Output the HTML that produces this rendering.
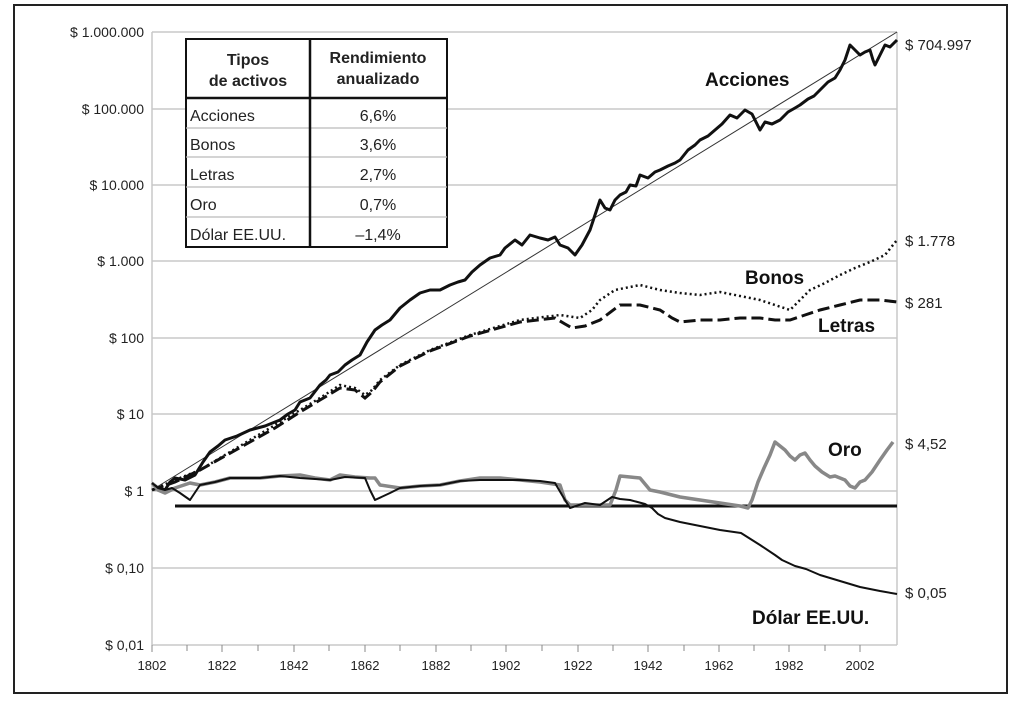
<!DOCTYPE html>
<html><head><meta charset="utf-8"><style>
html,body{margin:0;padding:0;background:#fff;}
svg{display:block;font-family:"Liberation Sans",sans-serif;}
</style></head><body>
<svg width="1024" height="726" viewBox="0 0 1024 726" xmlns="http://www.w3.org/2000/svg">
<rect x="14" y="5" width="993" height="688" fill="#fff" stroke="#222" stroke-width="2"/>
<g stroke="#c8c8c8" stroke-width="1.5">
<line x1="152" y1="32" x2="897" y2="32"/><line x1="152" y1="109" x2="897" y2="109"/>
<line x1="152" y1="185" x2="897" y2="185"/><line x1="152" y1="261" x2="897" y2="261"/>
<line x1="152" y1="338" x2="897" y2="338"/><line x1="152" y1="414" x2="897" y2="414"/>
<line x1="152" y1="491" x2="897" y2="491"/><line x1="152" y1="568" x2="897" y2="568"/>
<line x1="152" y1="645" x2="897" y2="645"/>
<line x1="152" y1="32" x2="152" y2="645"/><line x1="897" y1="32" x2="897" y2="645"/>
</g>
<g stroke="#888" stroke-width="1">
<line x1="152" y1="645" x2="152" y2="652"/><line x1="187" y1="645" x2="187" y2="651"/><line x1="222" y1="645" x2="222" y2="652"/><line x1="258" y1="645" x2="258" y2="651"/><line x1="294" y1="645" x2="294" y2="652"/><line x1="329" y1="645" x2="329" y2="651"/><line x1="365" y1="645" x2="365" y2="652"/><line x1="400" y1="645" x2="400" y2="651"/><line x1="436" y1="645" x2="436" y2="652"/><line x1="471" y1="645" x2="471" y2="651"/><line x1="506" y1="645" x2="506" y2="652"/><line x1="542" y1="645" x2="542" y2="651"/><line x1="578" y1="645" x2="578" y2="652"/><line x1="613" y1="645" x2="613" y2="651"/><line x1="648" y1="645" x2="648" y2="652"/><line x1="684" y1="645" x2="684" y2="651"/><line x1="719" y1="645" x2="719" y2="652"/><line x1="754" y1="645" x2="754" y2="651"/><line x1="789" y1="645" x2="789" y2="652"/><line x1="825" y1="645" x2="825" y2="651"/><line x1="860" y1="645" x2="860" y2="652"/>
</g>
<g font-size="14" fill="#222" text-anchor="end">
<text x="144" y="37">$ 1.000.000</text><text x="144" y="114">$ 100.000</text>
<text x="144" y="190">$ 10.000</text><text x="144" y="266">$ 1.000</text>
<text x="144" y="343">$ 100</text><text x="144" y="419">$ 10</text>
<text x="144" y="496">$ 1</text><text x="144" y="573">$ 0,10</text>
<text x="144" y="650">$ 0,01</text>
</g>
<g font-size="13" fill="#222" text-anchor="middle">
<text x="152" y="670">1802</text><text x="222" y="670">1822</text><text x="294" y="670">1842</text><text x="365" y="670">1862</text><text x="436" y="670">1882</text><text x="506" y="670">1902</text><text x="578" y="670">1922</text><text x="648" y="670">1942</text><text x="719" y="670">1962</text><text x="789" y="670">1982</text><text x="860" y="670">2002</text>
</g>
<line x1="175" y1="506" x2="897" y2="506" stroke="#111" stroke-width="3"/>
<line x1="152" y1="490" x2="897" y2="32" stroke="#333" stroke-width="1"/>
<polyline fill="none" stroke="#111" stroke-width="3" stroke-linejoin="round" points="152,483 158,488 165,490 170,482 175,478 185,480 195,475 203,462 210,452 218,446 225,440 237,436 250,430 265,426 280,420 288,414 295,410 300,402 310,398 320,385 326,380 330,375 338,372 345,365 352,360 360,355 367,342 375,330 382,325 390,320 400,308 410,300 420,293 430,290 440,290 450,285 458,282 465,280 472,272 480,265 490,258 500,255 505,248 515,240 522,245 530,235 540,238 548,240 555,237 560,245 568,248 575,255 582,245 590,230 596,212 600,200 605,208 610,210 615,200 620,195 626,192 630,185 636,186 640,175 648,178 655,172 660,170 668,166 675,163 680,160 688,150 695,145 700,140 708,136 715,130 722,124 730,115 737,118 745,110 752,114 760,130 765,122 772,124 780,120 788,112 795,108 800,105 808,99 814,96 820,90 828,82 835,78 840,70 845,60 850,45 855,50 860,55 865,52 870,50 873,60 875,65 880,55 885,45 890,47 897,40"/>
<polyline fill="none" stroke="#111" stroke-width="2.5" stroke-dasharray="2,3" points="152,490 175,480 200,470 225,455 250,440 275,425 300,410 320,398 340,385 355,388 365,395 372,390 380,380 400,365 430,350 470,335 520,320 560,315 580,318 592,310 600,300 615,290 640,285 660,290 680,293 700,295 720,292 740,296 760,300 775,305 790,310 800,300 810,290 825,283 840,275 855,268 870,262 885,255 897,240"/>
<polyline fill="none" stroke="#111" stroke-width="3" stroke-dasharray="12,5" points="152,490 175,482 200,470 225,456 250,442 275,428 300,412 320,400 340,388 355,390 365,398 372,392 380,382 400,366 430,351 470,336 520,322 555,318 565,324 572,328 585,326 600,320 620,305 640,305 660,310 672,318 680,322 700,320 720,320 740,318 760,318 775,320 790,320 805,315 820,310 840,305 860,300 880,300 897,302"/>
<polyline fill="none" stroke="#888" stroke-width="3.5" stroke-linejoin="round" points="152,483 158,490 165,493 175,488 190,483 200,485 215,482 230,478 260,478 280,476 300,475 315,478 330,480 340,475 355,477 370,478 375,478 380,485 400,488 420,486 440,485 460,481 480,478 500,478 520,480 540,482 560,485 565,500 570,505 590,505 610,505 616,490 620,476 630,477 640,478 650,490 660,492 680,497 700,500 720,503 740,506 748,508 752,500 758,482 764,468 770,455 775,442 780,446 785,450 790,456 795,460 800,455 805,453 810,460 815,466 822,472 830,477 835,476 845,480 850,486 855,488 860,482 865,480 872,472 880,460 887,450 893,442"/>
<polyline fill="none" stroke="#111" stroke-width="2" stroke-linejoin="round" points="152,483 158,488 165,490 172,488 180,493 190,500 200,485 215,482 230,478 260,478 280,476 300,478 315,479 330,480 345,477 365,478 370,490 375,500 390,493 400,488 420,486 440,485 460,481 480,480 500,480 520,480 540,481 555,483 562,495 570,508 585,503 600,505 612,497 620,499 630,500 645,504 652,508 658,514 665,518 680,522 700,526 720,530 741,533 760,545 775,555 782,560 795,566 806,569 820,575 840,581 860,587 880,591 897,594"/>
<rect x="186" y="39" width="261" height="208" fill="#fff" stroke="#111" stroke-width="2"/>
<g stroke="#bbb" stroke-width="1.2">
<line x1="186" y1="128" x2="447" y2="128"/><line x1="186" y1="157" x2="447" y2="157"/>
<line x1="186" y1="187" x2="447" y2="187"/><line x1="186" y1="217" x2="447" y2="217"/>
</g>
<line x1="186" y1="98" x2="447" y2="98" stroke="#111" stroke-width="2.5"/>
<line x1="310" y1="39" x2="310" y2="247" stroke="#111" stroke-width="2.5"/>
<g font-size="16" font-weight="bold" fill="#222" text-anchor="middle">
<text x="248" y="65">Tipos</text><text x="248" y="86">de activos</text>
<text x="378" y="63">Rendimiento</text><text x="378" y="84">anualizado</text>
</g>
<g font-size="16" fill="#222">
<text x="190" y="121">Acciones</text><text x="190" y="150">Bonos</text>
<text x="190" y="180">Letras</text><text x="190" y="210">Oro</text><text x="190" y="240">Dólar EE.UU.</text>
</g>
<g font-size="16" fill="#222" text-anchor="middle">
<text x="378" y="121">6,6%</text><text x="378" y="150">3,6%</text><text x="378" y="180">2,7%</text><text x="378" y="210">0,7%</text><text x="378" y="240">–1,4%</text>
</g>
<g font-size="19" font-weight="bold" fill="#111">
<text x="705" y="86">Acciones</text><text x="745" y="284">Bonos</text>
<text x="818" y="332">Letras</text><text x="828" y="456">Oro</text>
<text x="752" y="624">Dólar EE.UU.</text>
</g>
<g font-size="15" fill="#222">
<text x="905" y="50">$ 704.997</text><text x="905" y="246">$ 1.778</text>
<text x="905" y="308">$ 281</text><text x="905" y="449">$ 4,52</text>
<text x="905" y="598">$ 0,05</text>
</g>
</svg>
</body></html>
